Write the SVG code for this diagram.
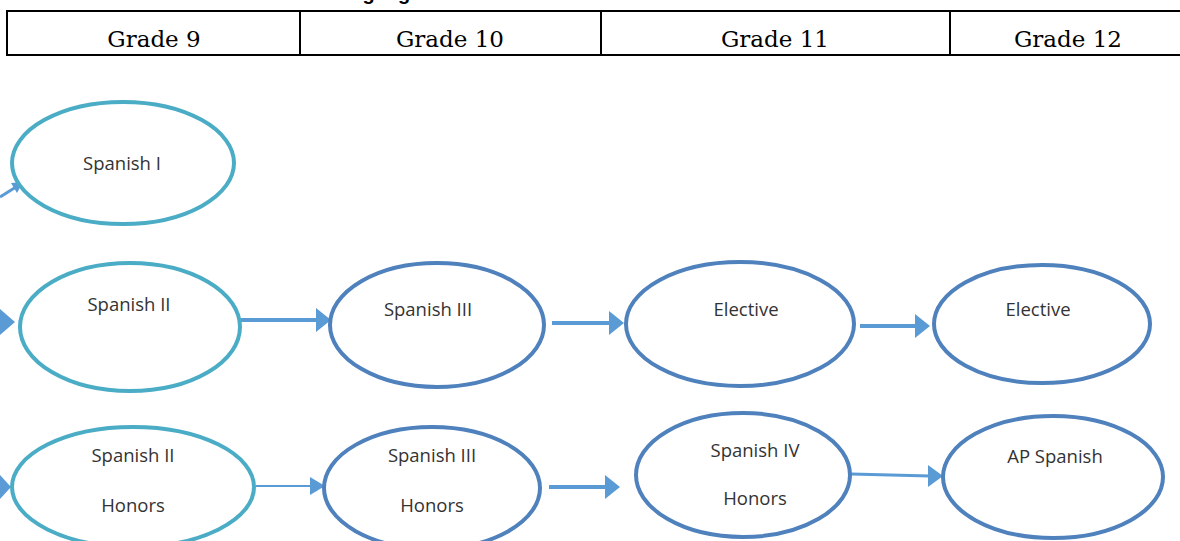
<svg xmlns="http://www.w3.org/2000/svg" width="1180" height="541" viewBox="0 0 1180 541">
<defs>
<style>
.hdr{font-family:"DejaVu Serif","Liberation Serif",serif;font-size:23px;fill:#000;text-anchor:middle}
.tl{font-family:"Liberation Sans",Arial,sans-serif;font-weight:bold;font-size:20px;fill:#000}
.teal{fill:#fff;stroke:#4bacc6;stroke-width:4}
.blue{fill:#fff;stroke:#4f81bd;stroke-width:4}
.lbl{font-family:"Open Sans","Liberation Sans",sans-serif;font-size:18.5px;fill:#333;text-anchor:middle}
.c{stroke:#5b9bd5;fill:none}
.h{fill:#5b9bd5}
</style>
</defs>
<rect width="1180" height="541" fill="#fff"/>
<text class="tl" x="265" y="-0.5">World Language Flowchart</text>
<g id="table" stroke="#000" stroke-width="2" fill="none">
<rect x="7" y="11" width="1185" height="44"/>
<line x1="300" y1="11" x2="300" y2="55"/>
<line x1="601" y1="11" x2="601" y2="55"/>
<line x1="950" y1="11" x2="950" y2="55"/>
</g>
<text class="hdr" x="154" y="47">Grade 9</text>
<text class="hdr" x="450" y="47">Grade 10</text>
<text class="hdr" x="775" y="47">Grade 11</text>
<text class="hdr" x="1068" y="47">Grade 12</text>
<g id="connectors">
<path class="c" stroke-width="3" d="M0,197 L16,187"/>
<polygon class="h" points="23,182 11,183 17,193"/>
<polygon class="h" points="0,309 15,322 0,335"/>
<polygon class="h" points="0,475 11,487 0,499"/>
<path class="c" stroke-width="4" d="M240,320 L317,320"/>
<polygon class="h" points="316,308 331,320 316,332"/>
<path class="c" stroke-width="4" d="M552,323 L610,323"/>
<polygon class="h" points="609,311 624,323 609,335"/>
<path class="c" stroke-width="4" d="M860,326 L916,326"/>
<polygon class="h" points="915,314 930,326 915,338"/>
<path class="c" stroke-width="2" d="M256,486 L312,486"/>
<polygon class="h" points="310,477 325,486 310,495"/>
<path class="c" stroke-width="4" d="M549,487 L606,487"/>
<polygon class="h" points="605,475 620,487 605,499"/>
<path class="c" stroke-width="3" d="M851,474 L930,476"/>
<polygon class="h" points="928,465 943,476 928,487"/>
</g>
<g id="spanish1"><ellipse class="teal" cx="123" cy="163" rx="111" ry="61"/><text class="lbl" x="122" y="170">Spanish I</text></g>
<g id="spanish2"><ellipse class="teal" cx="130" cy="327" rx="110" ry="64"/><text class="lbl" x="129" y="311">Spanish II</text></g>
<g id="spanish3"><ellipse class="blue" cx="437" cy="325" rx="107" ry="62"/><text class="lbl" x="428" y="316">Spanish III</text></g>
<g id="elective11"><ellipse class="blue" cx="740" cy="324" rx="114" ry="62"/><text class="lbl" x="746" y="316">Elective</text></g>
<g id="elective12"><ellipse class="blue" cx="1042" cy="324" rx="108" ry="59"/><text class="lbl" x="1038" y="316">Elective</text></g>
<g id="spanish2h"><ellipse class="teal" cx="133" cy="487" rx="121" ry="60"/><text class="lbl" x="133" y="462">Spanish II</text><text class="lbl" x="133" y="512">Honors</text></g>
<g id="spanish3h"><ellipse class="blue" cx="432" cy="488" rx="108" ry="61"/><text class="lbl" x="432" y="462">Spanish III</text><text class="lbl" x="432" y="512">Honors</text></g>
<g id="spanish4h"><ellipse class="blue" cx="743" cy="475" rx="107" ry="62"/><text class="lbl" x="755" y="457">Spanish IV</text><text class="lbl" x="755" y="505">Honors</text></g>
<g id="apspanish"><ellipse class="blue" cx="1053" cy="477" rx="110" ry="61"/><text class="lbl" x="1055" y="463">AP Spanish</text></g>
</svg>
